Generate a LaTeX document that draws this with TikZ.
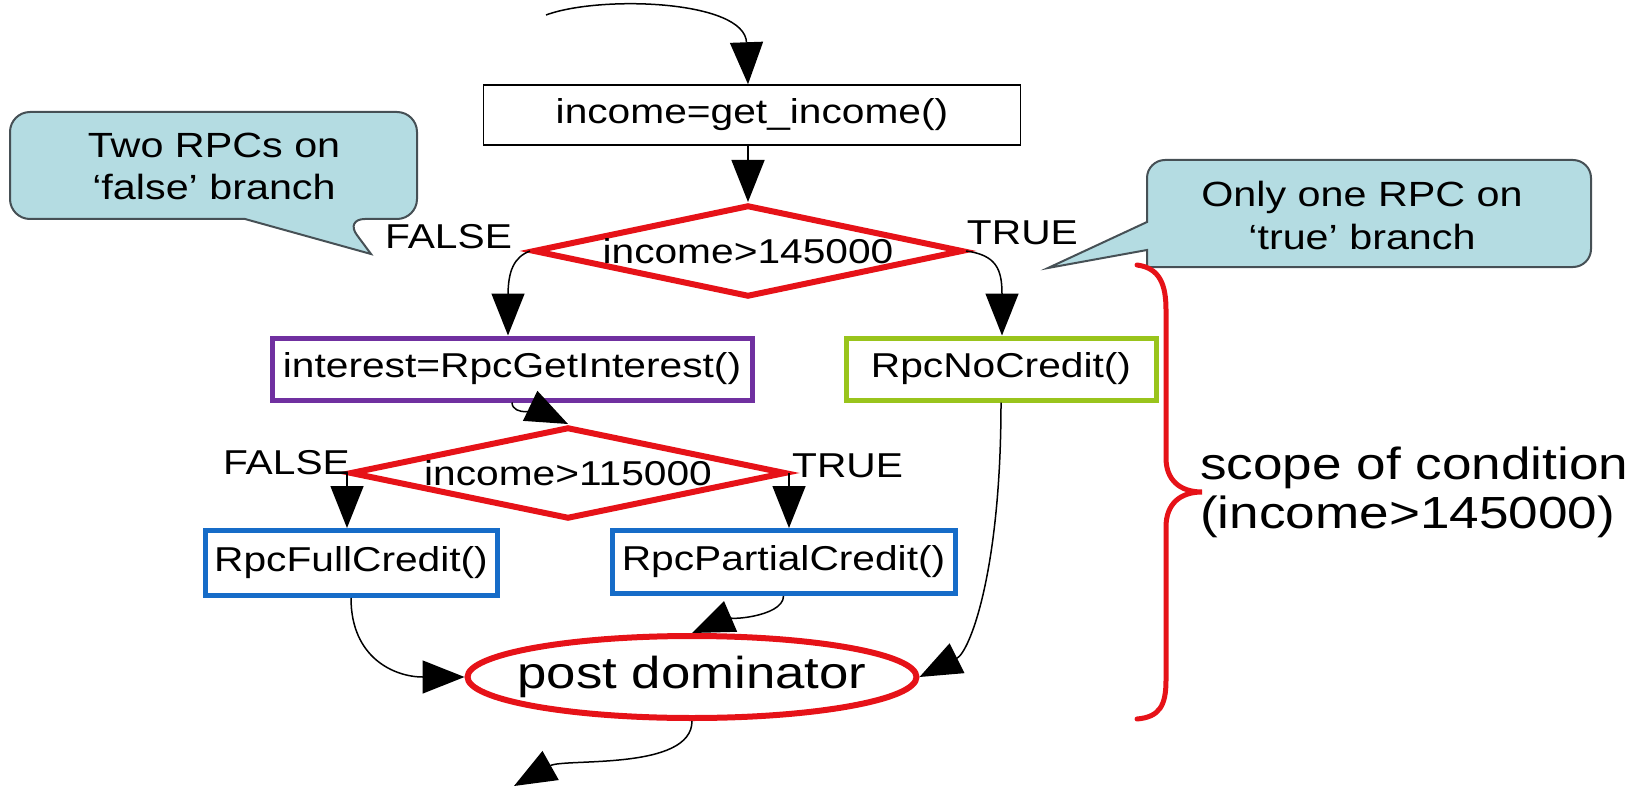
\documentclass[tikz,border=0pt]{standalone}
\usepackage{fontspec}
\setmainfont{Liberation Sans}[FakeStretch=1.18]
\usetikzlibrary{arrows.meta,shapes.geometric,calc}
\definecolor{cred}{RGB}{230,18,24}
\definecolor{cpurple}{RGB}{112,48,160}
\definecolor{cgreen}{RGB}{153,196,28}
\definecolor{cblue}{RGB}{22,108,200}
\definecolor{cfillb}{RGB}{180,220,226}
\definecolor{cborder}{RGB}{70,80,85}
\begin{document}
\begin{tikzpicture}[x=1pt,y=-1pt,
  every node/.style={font=\fontsize{34.5}{41}\selectfont},
  plainbox/.style={draw=black,rectangle,inner sep=0pt,line width=1.5pt},
  cbox/.style={draw,rectangle,inner sep=0pt,line width=5pt},
  dia/.style={draw=cred,diamond,aspect=4.7,inner sep=0pt,line width=6pt},
  ell/.style={draw=cred,ellipse,inner sep=0pt,line width=6pt,font=\fontsize{44.7}{52}\selectfont},
  lbl/.style={inner sep=0pt},
  ctext/.style={inner sep=0pt,font=\fontsize{35}{42}\selectfont},
  stext/.style={inner sep=0pt,font=\fontsize{45}{52}\selectfont},
  arr/.style={line width=1.5pt,-{Triangle[length=42pt,width=33pt]}},
  callout/.style={draw=cborder,fill=cfillb,line width=2pt},
  brace/.style={draw=cred,line width=5pt,line cap=round}
]
\useasboundingbox (0,0) rectangle (1645,786);

% callouts
\draw[callout] (212,112) [rounded corners=20pt] -- (417,112) -- (417,219) -- (345,219) [sharp corners] -- (371,254) -- (245,219) [rounded corners=20pt] -- (10,219) -- (10,112) -- cycle;
\node[ctext,anchor=base] (c1a) at (214,158) {Two RPCs on};
\node[ctext,anchor=base] (c1b) at (214,200) {‘false’ branch};

\draw[callout] (1370,160) [rounded corners=18pt] -- (1591,160) -- (1591,267) -- (1160,267) [sharp corners] -- (1147,267) -- (1147,250) -- (1048,268) -- (1147,222) [rounded corners=18pt] -- (1147,160) -- cycle;
\node[ctext,anchor=base] (c2a) at (1362,207) {Only one RPC on};
\node[ctext,anchor=base] (c2b) at (1362,250) {‘true’ branch};

% nodes
\node[plainbox,minimum width=537pt,minimum height=60pt] (b1) at (752,115) {income=get\_income()};
\node[dia,minimum width=430pt,minimum height=92pt] (d1) at (748,251) {income>145000};
\node[cbox,draw=cpurple,minimum width=480pt,minimum height=62pt] (p) at (512,369) {interest=RpcGetInterest()};
\node[cbox,draw=cgreen,minimum width=310pt,minimum height=62pt] (g) at (1001,369) {RpcNoCredit()};
\node[dia,minimum width=436pt,minimum height=92pt] (d2) at (568,473) {income>115000};
\node[cbox,draw=cblue,minimum width=292pt,minimum height=65pt] (f) at (351,563) {RpcFullCredit()};
\node[cbox,draw=cblue,minimum width=343pt,minimum height=63pt] (pc) at (783.5,562) {RpcPartialCredit()};
\node[ell,minimum width=449pt,minimum height=82pt] (e) at (692,677) {\makebox[0pt]{post dominator}};

% labels
\node[lbl,anchor=base west] (fl1) at (385,248) {FALSE};
\node[lbl,anchor=base east] (tl1) at (1078,245) {TRUE};
\node[lbl,anchor=base east] (fl2) at (350,474) {FALSE};
\node[lbl,anchor=base west] (tl2) at (792,477) {TRUE};

% scope brace and text
\draw[brace] (1137,265) .. controls (1160,268) and (1166,285) .. (1166,310) -- (1166,458) .. controls (1166,480) and (1180,492) .. (1202,492) .. controls (1180,492) and (1166,504) .. (1166,527) -- (1166,680) .. controls (1166,705) and (1160,717) .. (1137,719);
\node[stext,anchor=base west] (s1) at (1200,479) {scope of condition};
\node[stext,anchor=base west] (s2) at (1200,528) {(income>145000)};

% connectors
\coordinate (top) at (546,15);
\draw[arr] (top) .. controls (600,-5) and (745,0) .. (b1.north -| d1.north);
\draw[arr] (b1.south -| d1.north) -- (d1.north);
\coordinate (fa) at (508,296);
\draw[arr] (d1.west) .. controls +(-16,6) and +(0,-25) .. (fa) -- (fa |- p.north);
\coordinate (ta) at (1002,294);
\draw[arr] (d1.east) .. controls +(30,4) and +(0,-25) .. (ta) -- (ta |- g.north);
\draw[arr] (p.south) .. controls +(0,14) and +(-25,-12) .. (d2.north);
\draw[arr] (d2.west) -- (d2.west |- f.north);
\draw[arr] (d2.east) -- (d2.east |- pc.north);
\draw[arr] (f.south) .. controls +(0,60) and +(-70,0) .. (e.west);
\draw[arr] (pc.south) .. controls +(0,22) and +(28,-12) .. (e.north);
\draw[arr] (g.south) .. controls +(0,170) and +(50,-25) .. (e.east);
\coordinate (bot) at (514,786);
\draw[arr] (e.south) .. controls +(0,50) and +(50,-28) .. (bot);
\end{tikzpicture}
\end{document}
